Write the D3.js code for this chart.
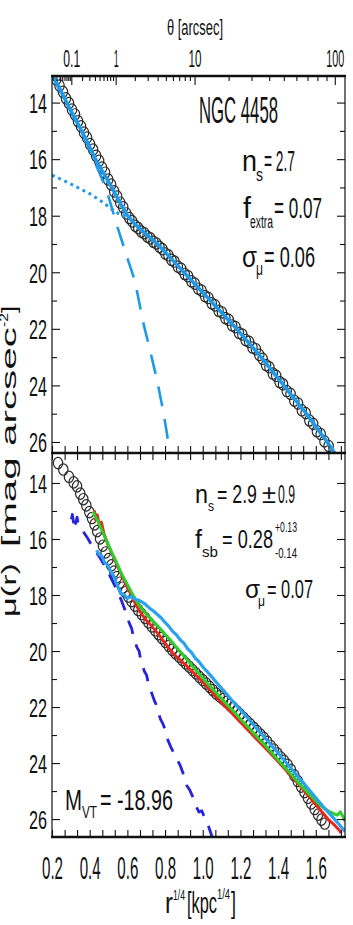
<!DOCTYPE html>
<html>
<head>
<meta charset="utf-8">
<script src="https://cdn.jsdelivr.net/npm/d3@7"></script>
<style>
  body { margin: 0; background: #fff; }
  svg { display: block; }
</style>
</head>
<body>
<svg id="chart" width="353" height="925"></svg>
<script>
// ---- data ----
// top panel: NGC 4458 profile, x = r^(1/4) [kpc^(1/4)], y = mu [mag/arcsec^2]
const topR = [0.222,0.240,0.258,0.274,0.290,0.306,0.322,0.338,0.354,0.370,0.386,0.402,0.418,0.434,0.450,0.466,0.482,0.498,0.514,0.530,0.546,0.562,0.578,0.594,0.610,0.626,0.642,0.658,0.674,0.690,0.706,0.722,0.738,0.754,0.770,0.786,0.802,0.818,0.834,0.850,0.868,0.886,0.904,0.922,0.940,0.958,0.976,0.994,1.012,1.030,1.048,1.066,1.084,1.102,1.120,1.138,1.156,1.174,1.192,1.210,1.228,1.246,1.264,1.282,1.300,1.318,1.336,1.354,1.372,1.390,1.408,1.426,1.446,1.466,1.486,1.506,1.526,1.546,1.566,1.586,1.606,1.626,1.646,1.668];
const topMu = [13.18,13.40,13.62,13.85,14.02,14.25,14.42,14.66,14.84,15.06,15.24,15.47,15.66,15.88,16.06,16.30,16.48,16.72,16.90,17.14,17.32,17.54,17.70,17.92,18.08,18.20,18.36,18.44,18.56,18.62,18.74,18.80,18.92,18.98,19.10,19.18,19.34,19.40,19.56,19.62,19.80,19.88,20.06,20.14,20.32,20.40,20.58,20.65,20.84,20.91,21.10,21.17,21.36,21.42,21.62,21.68,21.88,21.94,22.14,22.20,22.40,22.46,22.66,22.72,22.92,23.06,23.28,23.36,23.58,23.66,23.88,23.96,24.20,24.30,24.54,24.64,24.88,24.98,25.24,25.36,25.62,25.72,25.98,26.14];

// total model (solid)
const fitR  = [0.200,0.240,0.278,0.318,0.357,0.395,0.430,0.474,0.517,0.556,0.596,0.640,0.700,0.760,0.830,0.900,0.970,1.040,1.110,1.180,1.245,1.310,1.370,1.430,1.490,1.550,1.605,1.660,1.700];
const fitMu = [13.00,13.50,14.00,14.50,15.00,15.50,16.00,16.50,17.00,17.48,17.95,18.30,18.66,19.00,19.50,20.00,20.50,21.00,21.50,22.00,22.50,23.00,23.50,24.00,24.50,25.00,25.50,26.00,26.39];
// extra (inner) component, dashed
const innerR  = [0.200,0.300,0.380,0.440,0.490,0.545,0.600,0.640,0.683,0.720,0.757,0.790,0.810,0.824];
const innerMu = [13.06,14.33,15.36,16.30,17.10,18.35,19.50,20.30,21.75,22.75,23.80,24.90,25.70,26.39];
// Sersic (outer) component, dotted
const outerR  = [0.200,0.300,0.400,0.460,0.520,0.560,0.600];
const outerMu = [16.56,16.88,17.22,17.48,17.78,17.96,18.05];

// bottom panel
const botR = [0.232,0.260,0.290,0.315,0.333,0.350,0.366,0.382,0.398,0.412,0.426,0.440,0.455,0.470,0.485,0.500,0.515,0.530,0.545,0.560,0.575,0.590,0.605,0.622,0.640,0.658,0.676,0.694,0.712,0.730,0.748,0.766,0.784,0.802,0.820,0.838,0.856,0.874,0.892,0.910,0.928,0.946,0.964,0.982,1.000,1.018,1.036,1.054,1.072,1.090,1.108,1.126,1.144,1.162,1.180,1.198,1.216,1.234,1.252,1.270,1.288,1.306,1.324,1.342,1.360,1.378,1.396,1.414,1.432,1.450,1.468,1.486,1.504,1.522,1.540,1.558,1.576,1.594,1.612,1.630,1.648];
const botMu = [13.29,13.52,13.78,13.98,14.12,14.38,14.58,14.80,15.04,15.25,15.48,15.72,15.98,16.24,16.48,16.72,16.94,17.16,17.36,17.56,17.74,17.90,18.06,18.22,18.38,18.54,18.68,18.82,18.98,19.12,19.26,19.40,19.54,19.68,19.82,19.96,20.08,20.20,20.32,20.44,20.56,20.68,20.80,20.92,21.04,21.16,21.28,21.40,21.52,21.62,21.72,21.82,21.92,22.02,22.14,22.26,22.38,22.50,22.62,22.74,22.86,22.98,23.10,23.24,23.38,23.52,23.66,23.80,23.92,24.06,24.24,24.44,24.64,24.84,25.04,25.24,25.44,25.64,25.84,26.02,26.16];

const redR  = [0.425,0.432,0.440,0.450,0.462,0.475,0.500,0.525,0.550,0.575,0.600,0.620,0.640,0.660,0.680,0.700,0.720,0.740,0.760,0.780,0.800,0.820,0.840,0.860,0.880,0.910,0.940,0.970,1.000,1.040,1.080,1.120,1.160,1.200,1.240,1.280,1.320,1.360,1.400,1.440,1.480,1.520,1.560,1.600,1.640,1.670,1.700,1.725,1.735];
const redMu = [14.98,15.32,15.14,15.48,15.40,15.80,16.25,16.62,17.00,17.36,17.72,17.98,18.28,18.52,18.72,18.90,19.04,19.20,19.36,19.54,19.72,19.90,20.06,20.20,20.32,20.50,20.70,20.90,21.10,21.40,21.70,21.98,22.26,22.54,22.82,23.10,23.38,23.66,23.94,24.24,24.54,24.84,25.16,25.48,25.80,26.04,26.22,26.40,26.50];

const greenR  = [0.418,0.430,0.445,0.460,0.480,0.500,0.520,0.540,0.560,0.580,0.600,0.620,0.640,0.660,0.680,0.700,0.720,0.740,0.760,0.780,0.800,0.830,0.860,0.890,0.920,0.950,0.980,1.010,1.050,1.090,1.130,1.170,1.210,1.250,1.290,1.330,1.370,1.410,1.450,1.490,1.530,1.570,1.610,1.640,1.670,1.700,1.715,1.730,1.745,1.755];
const greenMu = [15.02,15.20,15.38,15.62,15.92,16.22,16.52,16.80,17.10,17.38,17.62,17.88,18.12,18.35,18.52,18.68,18.82,18.96,19.10,19.24,19.40,19.62,19.86,20.10,20.34,20.58,20.80,21.04,21.34,21.62,21.92,22.20,22.50,22.78,23.08,23.36,23.66,23.96,24.26,24.56,24.86,25.14,25.42,25.60,25.72,25.82,25.86,25.74,25.92,26.08];

const blueR  = [0.437,0.450,0.465,0.480,0.495,0.510,0.525,0.540,0.555,0.565,0.580,0.600,0.620,0.640,0.660,0.680,0.700,0.720,0.740,0.760,0.780,0.800,0.820,0.840,0.860,0.880,0.900,0.920,0.940,0.960,0.980,1.000,1.040,1.080,1.120,1.160,1.200,1.240,1.280,1.320,1.360,1.400,1.440,1.480,1.520,1.560,1.600,1.640,1.680,1.720,1.755];
const blueMu = [16.40,16.55,16.62,16.85,16.92,17.15,17.30,17.55,17.78,17.95,17.98,18.12,18.05,18.15,18.18,18.26,18.36,18.48,18.58,18.70,18.82,18.98,19.12,19.30,19.42,19.60,19.72,19.92,20.05,20.25,20.38,20.56,20.86,21.18,21.48,21.80,22.10,22.40,22.72,23.02,23.34,23.64,23.96,24.28,24.60,24.92,25.24,25.56,25.86,26.16,26.44];

// noisy inner-component band (dashed, dark blue)
const darkR  = [0.303,0.308,0.314,0.320,0.326,0.333,0.340,0.355,0.370,0.390,0.410,0.430,0.450,0.470,0.490,0.510,0.530,0.550,0.570,0.590,0.610,0.622,0.630,0.650,0.662,0.670,0.690,0.702,0.710,0.730,0.745,0.752,0.760,0.775,0.790,0.805,0.810,0.815,0.830,0.845,0.852,0.860,0.880,0.900,0.908,0.915,0.930,0.950,0.958,0.965,0.980,0.995,1.010,1.030,1.050];
const darkMu = [15.30,15.12,15.40,15.18,15.45,15.22,15.50,15.62,15.78,15.98,16.22,16.42,16.62,16.85,17.08,17.35,17.62,17.92,18.22,18.58,19.00,19.18,19.42,19.86,20.00,20.28,20.72,20.86,21.12,21.52,21.80,21.90,22.10,22.42,22.62,22.88,22.98,23.18,23.42,23.62,23.70,23.82,24.08,24.45,24.55,24.80,24.95,25.25,25.34,25.55,25.75,25.70,25.95,26.25,26.64];

// ticks
const xMajor = [0.2,0.4,0.6,0.8,1.0,1.2,1.4,1.6];
const xMinor = [0.267,0.333,0.467,0.533,0.667,0.733,0.867,0.933,1.067,1.133,1.267,1.333,1.467,1.533,1.667,1.733];
const yMajor = [14,16,18,20,22,24,26];
const yMinor = [15,17,19,21,23,25];
const thetaMajor = [0.1,1,10,100];
const thetaMinor = [0.02,0.03,0.04,0.05,0.06,0.07,0.08,0.09,0.2,0.3,0.4,0.5,0.6,0.7,0.8,0.9,2,3,4,5,6,7,8,9,20,30,40,50,60,70,80,90];
const kpcPerArcsec = 0.0837;

// ---- layout ----
const FONT = '"Liberation Sans", Arial, sans-serif';
const X0 = 52, X1 = 345, T = 76, M = 453, B = 837;
const LBLUE = "#1e9ae8";

const svg = d3.select("#chart").attr("font-family", FONT);
svg.append("rect").attr("width", 353).attr("height", 925).attr("fill", "#fff");

const x = d3.scaleLinear().domain([0.2, 1.755]).range([X0, X1]);
const yTop = d3.scaleLinear().domain([13.06, 26.39]).range([T, M]);
const yBot = d3.scaleLinear().domain([12.93, 26.64]).range([M, B]);
// theta axis: r^(1/4) = (theta * kpcPerArcsec)^(1/4), i.e. a power scale
const theta = d3.scalePow().exponent(0.25)
  .domain([Math.pow(0.2, 4) / kpcPerArcsec, Math.pow(1.755, 4) / kpcPerArcsec])
  .range([X0, X1]);

const defs = svg.append("defs");
defs.append("clipPath").attr("id", "clipTop").append("rect")
  .attr("x", X0).attr("y", T).attr("width", X1 - X0).attr("height", M - T);
defs.append("clipPath").attr("id", "clipBot").append("rect")
  .attr("x", X0).attr("y", M).attr("width", X1 - X0).attr("height", B - M);

function txt(g, s, px, py, size, w, anchor) {
  const t = g.append("text").attr("x", px).attr("y", py)
    .attr("font-size", size).attr("text-anchor", anchor || "start").text(s);
  if (w) t.attr("textLength", w).attr("lengthAdjust", "spacingAndGlyphs");
  return t;
}

function styleAxis(g) {
  g.attr("font-family", FONT).attr("color", "#111");
  g.select(".domain").remove();
  g.selectAll(".tick line").attr("stroke-width", 1.1);
  return g;
}

// ---- panels ----
function drawPanel(y, clip, pts, lines) {
  const g = svg.append("g").attr("clip-path", `url(#${clip})`);
  g.selectAll("ellipse").data(pts).enter().append("ellipse")
    .attr("cx", d => x(d[0])).attr("cy", d => y(d[1]))
    .attr("rx", 4.7).attr("ry", 5.7)
    .attr("fill", "none").attr("stroke", "#2a2a2a").attr("stroke-width", 1.2);
  const line = d3.line().x(d => x(d[0])).y(d => y(d[1]));
  lines.forEach(l => {
    g.append("path").attr("d", line(l.pts))
      .attr("fill", "none").attr("stroke", l.color).attr("stroke-width", l.w)
      .attr("stroke-dasharray", l.dash || null)
      .attr("stroke-linejoin", "round");
  });
}

drawPanel(yTop, "clipTop", d3.zip(topR, topMu), [
  { pts: d3.zip(innerR, innerMu), color: LBLUE, w: 2.6, dash: "20,13" },
  { pts: d3.zip(outerR, outerMu), color: LBLUE, w: 3, dash: "3,3.8" },
  { pts: d3.zip(fitR, fitMu), color: LBLUE, w: 3.6 }
]);

drawPanel(yBot, "clipBot", d3.zip(botR, botMu), [
  { pts: d3.zip(darkR, darkMu), color: "#2424dc", w: 2.8, dash: "14,11" },
  { pts: d3.zip(redR, redMu), color: "#e8281c", w: 3 },
  { pts: d3.zip(greenR, greenMu), color: "#2ccf2c", w: 3 },
  { pts: d3.zip(blueR, blueMu), color: "#2aa2ee", w: 3.2 }
]);

// ---- axes ----
function yAxes(y, size, w) {
  const gl = styleAxis(svg.append("g").attr("transform", `translate(${X0},0)`)
    .call(d3.axisLeft(y).tickValues(yMajor).tickSize(-8).tickPadding(5)));
  gl.selectAll(".tick text").attr("font-size", size).attr("dy", "0.36em")
    .attr("textLength", w).attr("lengthAdjust", "spacingAndGlyphs");
  styleAxis(svg.append("g").attr("transform", `translate(${X0},0)`)
    .call(d3.axisLeft(y).tickValues(yMinor).tickSize(-5).tickFormat("")));
  styleAxis(svg.append("g").attr("transform", `translate(${X1},0)`)
    .call(d3.axisRight(y).tickValues(yMajor).tickSize(-8).tickFormat("")));
  styleAxis(svg.append("g").attr("transform", `translate(${X1},0)`)
    .call(d3.axisRight(y).tickValues(yMinor).tickSize(-5).tickFormat("")));
}
yAxes(yTop, 27, 18);
yAxes(yBot, 25.5, 18);

// theta axis on top
const gt = styleAxis(svg.append("g").attr("transform", `translate(0,${T})`)
  .call(d3.axisTop(theta).tickValues(thetaMajor).tickSize(-9).tickPadding(9)
    .tickFormat(d => String(d))));
const thetaW = { "0.1": 17, "1": 5, "10": 13, "100": 18 };
gt.selectAll(".tick text").attr("font-size", 23)
  .attr("textLength", d => thetaW[String(d)]).attr("lengthAdjust", "spacingAndGlyphs");
styleAxis(svg.append("g").attr("transform", `translate(0,${T})`)
  .call(d3.axisTop(theta).tickValues(thetaMinor).tickSize(-5).tickFormat("")));

// shared middle axis: ticks up into top panel and down into bottom panel
[d3.axisBottom(x), d3.axisTop(x)].forEach(ax => {
  styleAxis(svg.append("g").attr("transform", `translate(0,${M})`)
    .call(ax.tickValues(xMajor.concat(xMinor)).tickSize(-7).tickFormat("")));
});

// bottom axis
const gb = styleAxis(svg.append("g").attr("transform", `translate(0,${B})`)
  .call(d3.axisBottom(x).tickValues(xMajor).tickSize(-7).tickPadding(20)
    .tickFormat(d3.format(".1f"))));
gb.selectAll(".tick text").attr("font-size", 31)
  .attr("textLength", 21).attr("lengthAdjust", "spacingAndGlyphs");
styleAxis(svg.append("g").attr("transform", `translate(0,${B})`)
  .call(d3.axisBottom(x).tickValues(xMinor).tickSize(-7).tickFormat("")));

// frame
const frame = svg.append("g").attr("stroke", "#111");
[T, M, B].forEach(yy => frame.append("line")
  .attr("x1", X0 - 1).attr("x2", X1 + 1).attr("y1", yy).attr("y2", yy).attr("stroke-width", 2.6));
[X0, X1].forEach(xx => frame.append("line")
  .attr("x1", xx).attr("x2", xx).attr("y1", T).attr("y2", B).attr("stroke-width", 1.2));

// ---- labels ----
const lab = svg.append("g").attr("fill", "#111");
txt(lab, "θ [arcsec]", 167, 35, 22, 56);

txt(lab, "NGC 4458", 199, 123, 36, 79);
txt(lab, "n", 242, 171, 30, 15);
txt(lab, "s", 256, 181, 18, 7);
txt(lab, "= 2.7", 264, 171, 30, 31);
txt(lab, "f", 243, 218, 30, 8);
txt(lab, "extra", 250, 228, 18, 23);
txt(lab, "= 0.07", 274, 218, 30, 48);
txt(lab, "σ", 242, 267, 30, 15);
txt(lab, "μ", 256, 275, 18, 7);
txt(lab, "= 0.06", 264, 267, 30, 51);

txt(lab, "n", 195, 503, 25, 13);
txt(lab, "s", 208, 511, 15, 6);
txt(lab, "= 2.9", 217, 503, 25, 40);
txt(lab, "±", 262, 503, 25, 14);
txt(lab, "0.9", 278, 503, 25, 17);
txt(lab, "f", 195, 548, 25, 7);
txt(lab, "sb", 202, 557, 15, 16);
txt(lab, "= 0.28", 222, 548, 25, 51);
txt(lab, "+0.13", 275, 532, 14, 22);
txt(lab, "-0.14", 275, 558, 14, 22);
txt(lab, "σ", 245, 598, 25, 15);
txt(lab, "μ", 258, 606, 15, 7);
txt(lab, "= 0.07", 267, 598, 25, 46);

txt(lab, "M", 65, 810, 30, 17);
txt(lab, "VT", 82, 818, 17, 15);
txt(lab, "= -18.96", 100, 810, 30, 73);

// x title
txt(lab, "r", 165, 913, 29, 8);
txt(lab, "1/4", 173, 900, 14, 12);
txt(lab, "[kpc", 187, 913, 29, 30);
txt(lab, "1/4", 217, 899, 14, 13);
txt(lab, "]", 231, 913, 29, 5);

// y title (rotated)
const yt = lab.append("g").attr("transform", "translate(15.5,617) rotate(-90)");
txt(yt, "μ(r)", 0, 0, 20, 54);
txt(yt, "[mag arcsec", 70, 0, 20, 220);
txt(yt, "-2", 290, -7.5, 12, 14);
txt(yt, "]", 304, 0, 20, 7);
</script>
</body>
</html>
